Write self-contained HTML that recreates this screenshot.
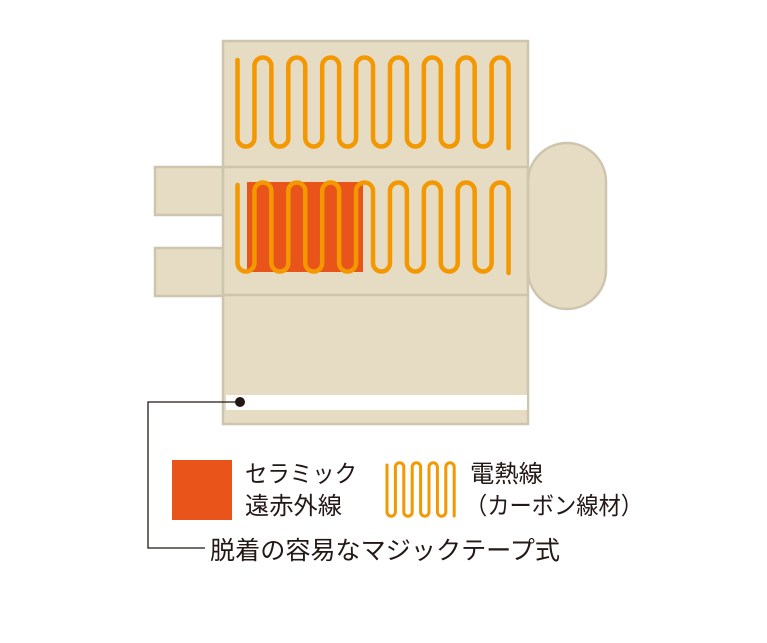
<!DOCTYPE html>
<html><head><meta charset="utf-8"><style>
body{margin:0;background:#fff;width:767px;height:638px;overflow:hidden}
svg text{font-family:"Liberation Sans","Noto Sans CJK JP",sans-serif;fill:#231815}
</style></head><body>
<svg width="767" height="638" viewBox="0 0 767 638" xmlns="http://www.w3.org/2000/svg">
<g fill="#e6dcc3" stroke="#cdc5ae" stroke-width="2.5">
<rect x="155" y="167" width="68" height="48"/>
<rect x="155" y="248" width="68" height="48"/>
<rect x="528" y="143" width="78" height="166" rx="39" ry="39"/>
<rect x="223" y="41" width="305" height="383"/>
<line x1="223" y1="167" x2="528" y2="167"/>
<line x1="223" y1="295" x2="528" y2="295"/>
</g>
<rect x="226" y="395" width="301" height="15" fill="#fff"/>
<rect x="247" y="182" width="116" height="90" fill="#e8541a"/>
<g fill="none" stroke="#f39800" stroke-width="4.5" stroke-linecap="round" stroke-linejoin="round">
<path id="s1" d="M237.5 60 V138 a8.47 8.47 0 0 0 16.94 0 V66 a8.47 8.47 0 0 1 16.94 0 V138 a8.47 8.47 0 0 0 16.94 0 V66 a8.47 8.47 0 0 1 16.94 0 V138 a8.47 8.47 0 0 0 16.94 0 V66 a8.47 8.47 0 0 1 16.94 0 V138 a8.47 8.47 0 0 0 16.94 0 V66 a8.47 8.47 0 0 1 16.94 0 V138 a8.47 8.47 0 0 0 16.94 0 V66 a8.47 8.47 0 0 1 16.94 0 V138 a8.47 8.47 0 0 0 16.94 0 V66 a8.47 8.47 0 0 1 16.94 0 V138 a8.47 8.47 0 0 0 16.94 0 V66 a8.47 8.47 0 0 1 16.94 0 V138 a8.47 8.47 0 0 0 16.94 0 V66 a8.47 8.47 0 0 1 16.94 0 V148"/>
<use href="#s1" y="125"/>
<path d="M387 465 V512 a4.2 4.2 0 0 0 8.4 0 V467 a4.2 4.2 0 0 1 8.4 0 V512 a4.2 4.2 0 0 0 8.4 0 V467 a4.2 4.2 0 0 1 8.4 0 V512 a4.2 4.2 0 0 0 8.4 0 V467 a4.2 4.2 0 0 1 8.4 0 V512 a4.2 4.2 0 0 0 8.4 0 V467 a4.2 4.2 0 0 1 8.4 0 V516" stroke-width="3"/>
</g>
<g fill="none" stroke="#231815" stroke-width="1.3">
<polyline points="240,402 148,402 148,548 205,548"/>
</g>
<circle cx="240" cy="402" r="5" fill="#231815"/>
<rect x="172" y="460" width="60" height="60" fill="#e8541a"/>
<text x="245" y="482" font-size="24" textLength="112" lengthAdjust="spacingAndGlyphs">セラミック</text>
<text x="245" y="514" font-size="24" textLength="97" lengthAdjust="spacingAndGlyphs">遠赤外線</text>
<text x="470" y="482" font-size="24" textLength="73" lengthAdjust="spacingAndGlyphs">電熱線</text>
<text x="465" y="514" font-size="24" textLength="178" lengthAdjust="spacingAndGlyphs">（カーボン線材）</text>
<text x="210" y="559" font-size="25" textLength="350" lengthAdjust="spacingAndGlyphs">脱着の容易なマジックテープ式</text>
</svg>
</body></html>
